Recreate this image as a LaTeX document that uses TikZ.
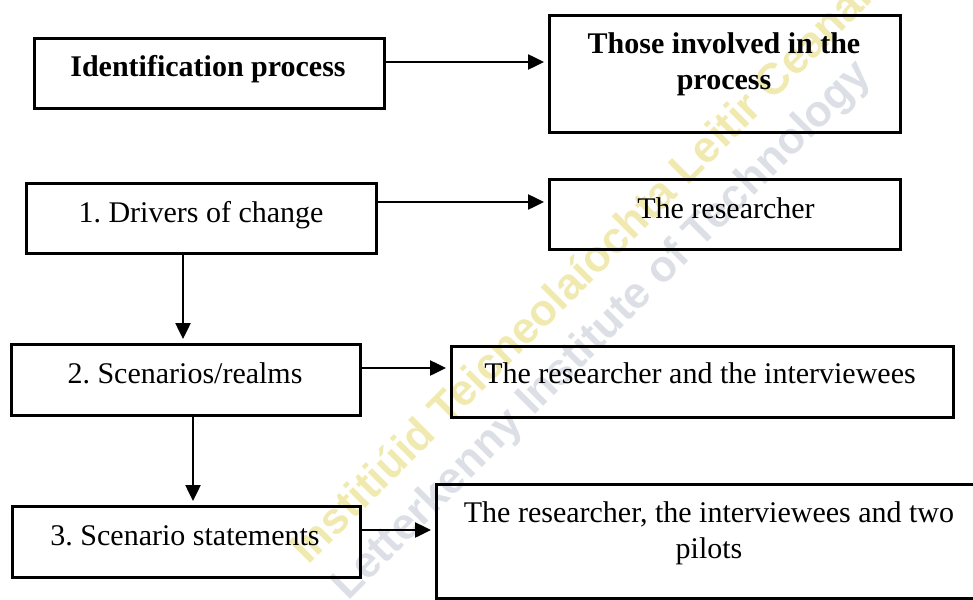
\documentclass[tikz,border=0pt]{standalone}
\usepackage{fontspec}
\setmainfont{Liberation Serif}
\newfontfamily\wmfont{Liberation Sans}
\usetikzlibrary{arrows.meta}
\definecolor{wmyellow}{RGB}{240,234,176}
\definecolor{wmgray}{RGB}{220,224,230}
\frenchspacing
\begin{document}
\begin{tikzpicture}[x=1pt,y=-1pt,
  box/.style={draw, line width=2.8pt, inner sep=0pt, anchor=north west},
  lbl/.style={inner sep=0pt, align=center, font=\fontsize{30}{36}\selectfont},
  arr/.style={line width=2.5pt, shorten >=4pt, -{Triangle[length=16pt,width=15pt]}},
  wm/.style={inner sep=0pt, rotate=45, anchor=base west,
    font=\wmfont\bfseries\fontsize{44}{44}\selectfont}]
\useasboundingbox (0,0) rectangle (973,599);

% watermark lettering
\node[wm, text=wmyellow] (wma) at (308,566) {Institiúid Teicneolaíochta Leitir Ceanainn};
\node[wm, text=wmgray] (wmb) at (348,602) {Letterkenny Institute of Technology};

% boxes
\node[box, minimum width=350pt, minimum height=70pt] (a) at (33,37) {};
\node[box, minimum width=351pt, minimum height=117pt] (b) at (548,14) {};
\node[box, minimum width=350pt, minimum height=70pt] (c) at (25,182) {};
\node[box, minimum width=351pt, minimum height=70pt] (d) at (548,178) {};
\node[box, minimum width=349pt, minimum height=71pt] (e) at (10,343) {};
\node[box, minimum width=502pt, minimum height=71pt] (f) at (450,345) {};
\node[box, minimum width=348pt, minimum height=71pt] (g) at (11,505) {};
\node[box, minimum width=555pt, minimum height=114pt] (h) at (435,483) {};

% texts
\node[lbl, anchor=base] (ta) at (208,77) {\bfseries Identification process};
\node[lbl] (tb) at (724,64) {\bfseries Those involved in the\\\bfseries process};
\node[lbl, anchor=base] (tc) at (201,222) {1. Drivers of change};
\node[lbl, anchor=base] (td) at (726,218) {The researcher};
\node[lbl, anchor=base] (te) at (185,383) {2. Scenarios/realms};
\node[lbl, anchor=base] (tf) at (700,383) {The researcher and the interviewees};
\node[lbl, anchor=base] (tg) at (185,545) {3. Scenario statements};
\node[lbl] (th) at (709,533) {The researcher, the interviewees and two\\pilots};

% connectors
\coordinate (ya) at (0,62);
\coordinate (yc) at (0,202);
\coordinate (ye) at (0,368);
\coordinate (yg) at (0,530);
\coordinate (xc) at (183,0);
\coordinate (xe) at (193,0);
\draw[arr] (a.east |- ya) -- (b.west |- ya);
\draw[arr] (c.east |- yc) -- (d.west |- yc);
\draw[arr] (e.east |- ye) -- (f.west |- ye);
\draw[arr] (g.east |- yg) -- (h.west |- yg);
\draw[arr] (c.south -| xc) -- (e.north -| xc);
\draw[arr] (e.south -| xe) -- (g.north -| xe);
\end{tikzpicture}
\end{document}
